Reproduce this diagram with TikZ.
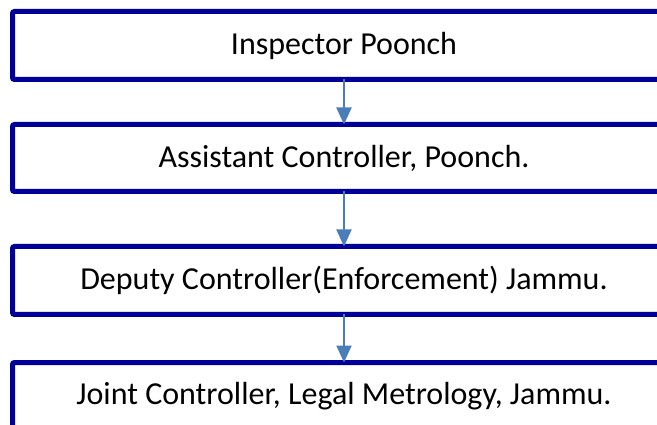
\documentclass[tikz,border=0pt]{standalone}
\usepackage{fontspec}
\setmainfont{Carlito}
\usetikzlibrary{arrows.meta}
\definecolor{boxblue}{RGB}{0,0,153}
\definecolor{arrowblue}{RGB}{74,126,187}

\begin{document}
\begin{tikzpicture}[
    x = 1pt, y = 1pt,
    level/.style = {shape = rectangle, draw = boxblue, line width = 5pt, rounded corners = 2pt, minimum width = 663pt, minimum height = 68pt, outer sep = 0pt, font = \fontsize{32}{38}\selectfont},
    link/.style = {draw = arrowblue, line width = 2pt, -{Triangle[width = 15pt, length = 17pt]}},
    ]
    \useasboundingbox (0,0) rectangle (657,-425);
    \node[level] (I) at (344, -45.5) {Inspector Poonch};
    \node[level, minimum height = 67pt] (A) at (344, -158) {Assistant Controller, Poonch.};
    \node[level] (D) at (344, -280.5) {Deputy Controller(Enforcement) Jammu.};
    \node[level] (J) at (344, -396.5) {Joint Controller, Legal Metrology, Jammu.};

    \path[link] (I) -- (A);
    \path[link] (A) -- (D);
    \path[link] (D) -- (J);
\end{tikzpicture}
\end{document}
